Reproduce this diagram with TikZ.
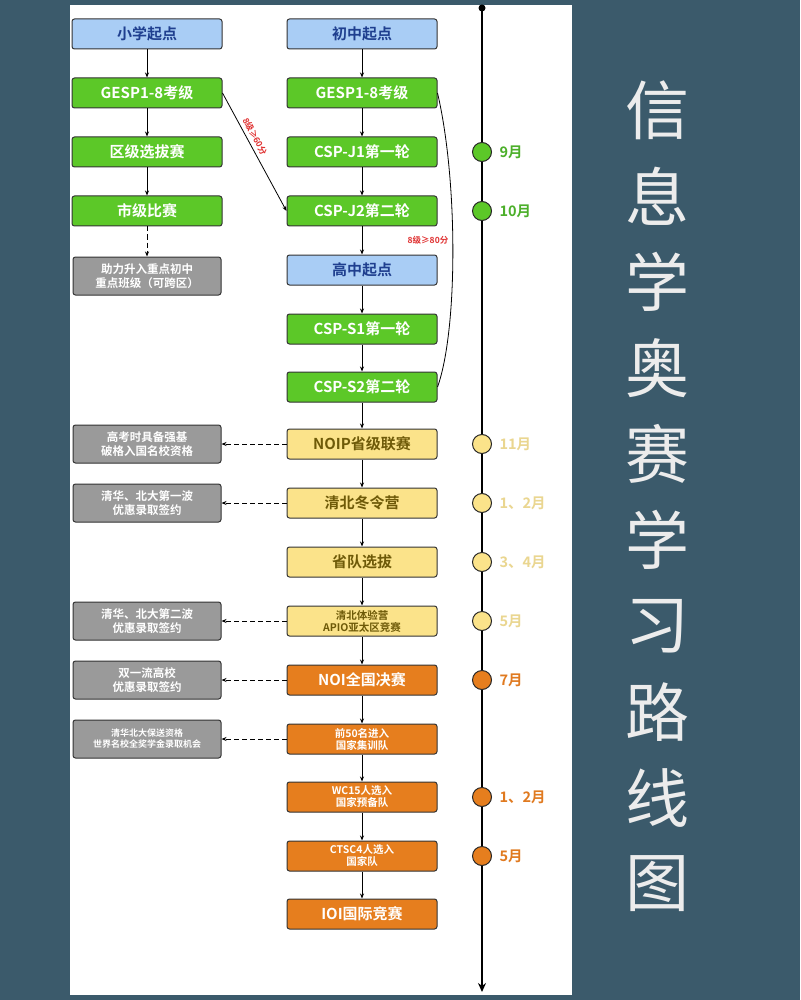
\documentclass[tikz,border=0pt]{standalone}
\usepackage{fontspec}
\setmainfont{Noto Sans CJK SC}[BoldFont={* Bold}]
\usetikzlibrary{arrows.meta}
\definecolor{bg}{HTML}{3B5A6B}
\definecolor{bluef}{HTML}{A9CDF5}
\definecolor{bluet}{HTML}{1F3F8F}
\definecolor{greenf}{HTML}{5CC828}
\definecolor{yellf}{HTML}{FBE38A}
\definecolor{yellt}{HTML}{6E5A08}
\definecolor{orf}{HTML}{E67E1E}
\definecolor{grayf}{HTML}{9A9A9A}
\definecolor{mgreen}{HTML}{4CAF2A}
\definecolor{myell}{HTML}{EAD690}
\definecolor{mor}{HTML}{E07A20}
\definecolor{redl}{HTML}{E03030}
\begin{document}
\begin{tikzpicture}[x=1pt,y=-1pt,
  box/.style={draw=black!80,line width=1pt,rounded corners=2.5pt,minimum width=150pt,minimum height=30pt,inner sep=1pt,font=\bfseries\fontsize{15}{17}\selectfont,align=center},
  bbox/.style={box,fill=bluef,text=bluet},
  gbox/.style={box,fill=greenf,text=white},
  ybox/.style={box,fill=yellf,text=yellt},
  obox/.style={box,fill=orf,text=white},
  sbox/.style={box,fill=grayf,text=white,minimum width=148pt,minimum height=38pt,font=\bfseries\fontsize{11.5}{13.5}\selectfont},
  arr/.style={-{Stealth[length=5pt,width=4pt]},line width=0.8pt},
  darr/.style={arr,dashed,dash pattern=on 5pt off 3pt},
  dot/.style={circle,draw=black!85,line width=1pt,minimum size=19pt,inner sep=0},
  mon/.style={anchor=west,font=\bfseries\fontsize{14.5}{16}\selectfont}]
\fill[bg] (0,0) rectangle (800,1000);
\fill[white] (70,5) rectangle (572,995);
\useasboundingbox (0,0) rectangle (800,1000);
% timeline
\coordinate (tt) at (482,8);
\coordinate (tb) at (482,992);
\fill (tt) circle (3.5pt);
\draw[line width=2.5pt,-{Stealth[length=9pt,width=8pt]}] (tt) -- (tb);
% left column
\node[bbox] (l1) at (147,34) {小学起点};
\node[gbox] (l2) at (147,93) {GESP1-8考级};
\node[gbox] (l3) at (147,152) {区级选拔赛};
\node[gbox] (l4) at (147,211) {市级比赛};
\node[sbox] (l5) at (147,276) {助力升入重点初中\\重点班级（可跨区）};
% middle column
\node[bbox] (m1) at (362,34) {初中起点};
\node[gbox] (m2) at (362,93) {GESP1-8考级};
\node[gbox] (m3) at (362,152) {CSP-J1第一轮};
\node[gbox] (m4) at (362,211) {CSP-J2第二轮};
\node[bbox] (m5) at (362,270) {高中起点};
\node[gbox] (m6) at (362,329) {CSP-S1第一轮};
\node[gbox] (m7) at (362,387) {CSP-S2第二轮};
\node[ybox] (m8) at (362,444) {NOIP省级联赛};
\node[ybox] (m9) at (362,503) {清北冬令营};
\node[ybox] (m10) at (362,562) {省队选拔};
\node[ybox,font=\bfseries\fontsize{10.5}{12}\selectfont] (m11) at (362,621) {清北体验营\\APIO亚太区竞赛};
\node[obox] (m12) at (362,680) {NOI全国决赛};
\node[obox,font=\bfseries\fontsize{10.5}{12}\selectfont] (m13) at (362,739) {前50名进入\\国家集训队};
\node[obox,font=\bfseries\fontsize{10.5}{12}\selectfont] (m14) at (362,797) {WC15人选入\\国家预备队};
\node[obox,font=\bfseries\fontsize{10.5}{12}\selectfont] (m15) at (362,856) {CTSC4人选入\\国家队};
\node[obox] (m16) at (362,914) {IOI国际竞赛};
% gray outcomes
\node[sbox] (g1) at (147,444) {高考时具备强基\\破格入国名校资格};
\node[sbox] (g2) at (147,503) {清华、北大第一波\\优惠录取签约};
\node[sbox] (g3) at (147,621) {清华、北大第二波\\优惠录取签约};
\node[sbox] (g4) at (147,680) {双一流高校\\优惠录取签约};
\node[sbox,font=\bfseries\fontsize{9}{11}\selectfont] (g5) at (147,739) {清华北大保送资格\\世界名校全奖学金录取机会};
% arrows
\foreach \a/\b in {l1/l2,l2/l3,l3/l4,m1/m2,m2/m3,m3/m4,m4/m5,m5/m6,m6/m7,m7/m8,m8/m9,m9/m10,m10/m11,m11/m12,m12/m13,m13/m14,m14/m15,m15/m16}
  \draw[arr] (\a) -- (\b);
\draw[darr] (l4) -- (l5);
\foreach \a/\b in {m8/g1,m9/g2,m11/g3,m12/g4,m13/g5}
  \draw[darr] (\a) -- (\b);
\draw[arr] (l2.east) -- node[sloped,above,pos=0.4,text=redl,font=\bfseries\fontsize{8.5}{9}\selectfont]{8级≥60分} (m4.west);
\draw[line width=0.8pt] (m2.east) .. controls (458,180) and (458,330) .. (m7.east);
\node[text=redl,font=\bfseries\fontsize{8.5}{9}\selectfont] (lab80) at (428,240) {8级≥80分};
% month dots
\foreach \y/\c/\t/\tc in {152/greenf/9月/mgreen,211/greenf/10月/mgreen,444/yellf/11月/myell,503/yellf/1、2月/myell,562/yellf/3、4月/myell,621/yellf/5月/myell,680/orf/7月/mor,797/orf/1、2月/mor,856/orf/5月/mor}{
  \node[dot,fill=\c] (d\y) at (482,\y) {};
  \node[mon,text=\tc] (t\y) at (496,\y) {\t};
}
% title
\foreach \ch [count=\i] in {信,息,学,奥,赛,学,习,路,线,图}
  \node[text=white!85!gray,font=\fontsize{64}{64}\selectfont] (ti\i) at (657,24+\i*86) {\ch};
\end{tikzpicture}
\end{document}
